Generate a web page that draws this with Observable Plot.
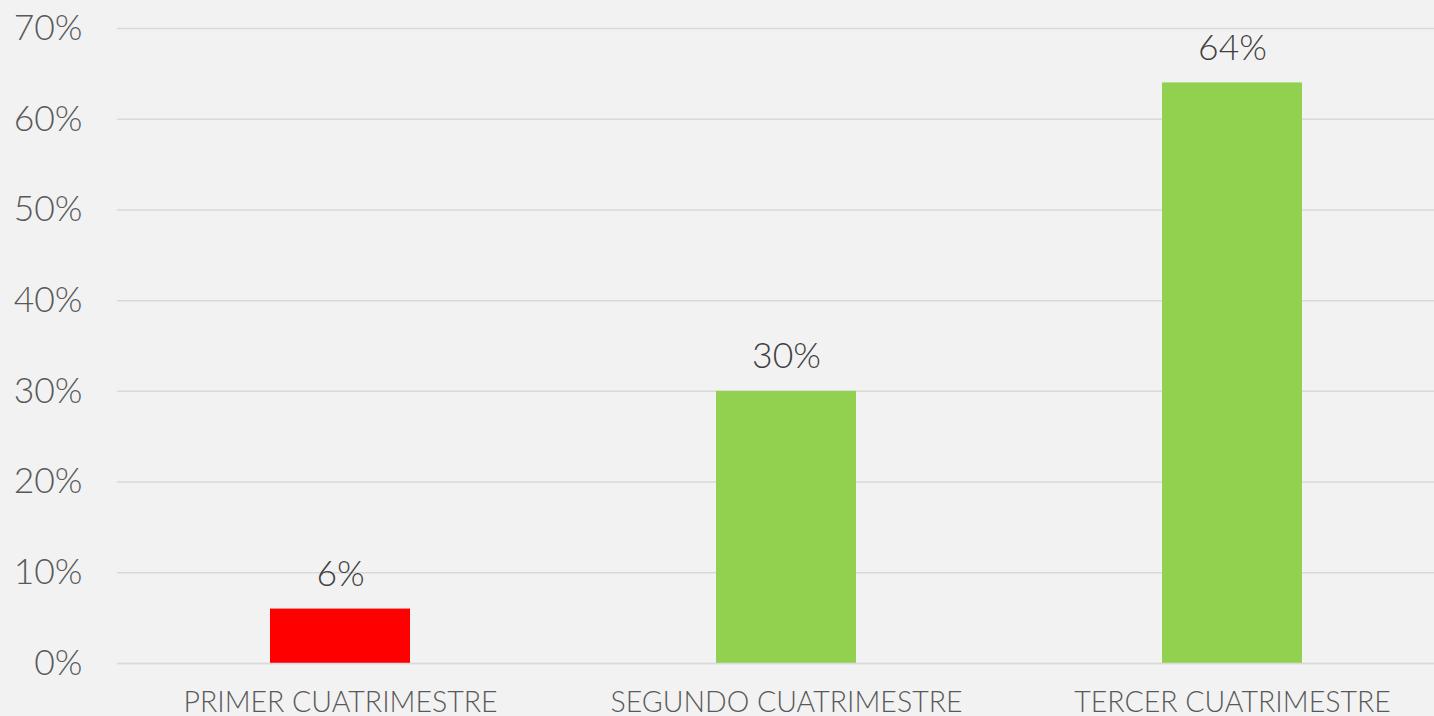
<!DOCTYPE html>
<html>
<head>
<meta charset="utf-8">
<script src="https://cdn.jsdelivr.net/npm/d3@7"></script>
<script src="https://cdn.jsdelivr.net/npm/@observablehq/plot@0.6"></script>
<style>
  html, body { margin: 0; padding: 0; background: #f2f2f2; overflow: hidden; }
  #chart svg { display: block; background: linear-gradient(135deg, #f7f7f7 0%, #f1f1f1 45%, #f3f3f3 100%); }
</style>
</head>
<body>
<div id="chart"></div>
<script>
const categories = ["PRIMER CUATRIMESTRE", "SEGUNDO CUATRIMESTRE", "TERCER CUATRIMESTRE"];
const values = [6, 30, 64];
const barColors = ["#ff0000", "#92d050", "#92d050"];
const yTicks = [0, 10, 20, 30, 40, 50, 60, 70];

const data = categories.map((c, i) => ({ category: c, value: values[i], color: barColors[i] }));

const chart = Plot.plot({
  width: 1434,
  height: 716,
  marginLeft: 117,
  marginRight: 0,
  marginTop: 28,
  marginBottom: 53,
  style: { fontFamily: "Lato, 'Open Sans', sans-serif", background: "transparent", overflow: "visible" },
  x: { domain: categories, range: [117, 1455], paddingInner: 0.686, paddingOuter: 0.343, label: null },
  y: { domain: [0, 70], label: null },
  marks: [
    Plot.gridY(yTicks, { stroke: "#d9d9d9", strokeOpacity: 1, strokeWidth: 1.5 }),
    Plot.barY(data, { x: "category", y: "value", fill: "color" }),
    Plot.ruleY([0], { stroke: "#d9d9d9", strokeWidth: 1.5 }),
    Plot.text(data, { x: "category", y: "value", text: d => d.value + "%", lineAnchor: "bottom", dy: -23, fontSize: 35.5, fill: "#404040", fontWeight: 300 }),
    Plot.axisY(yTicks, { tickSize: 0, tickPadding: 35, tickFormat: d => d + "%", fontSize: 35.5, fill: "#595959", fontWeight: 300, label: null }),
    Plot.axisX({ tickSize: 0, tickPadding: 28, fontSize: 28.5, fill: "#595959", fontWeight: 300, label: null })
  ]
});
document.getElementById("chart").appendChild(chart);
</script>
</body>
</html>
